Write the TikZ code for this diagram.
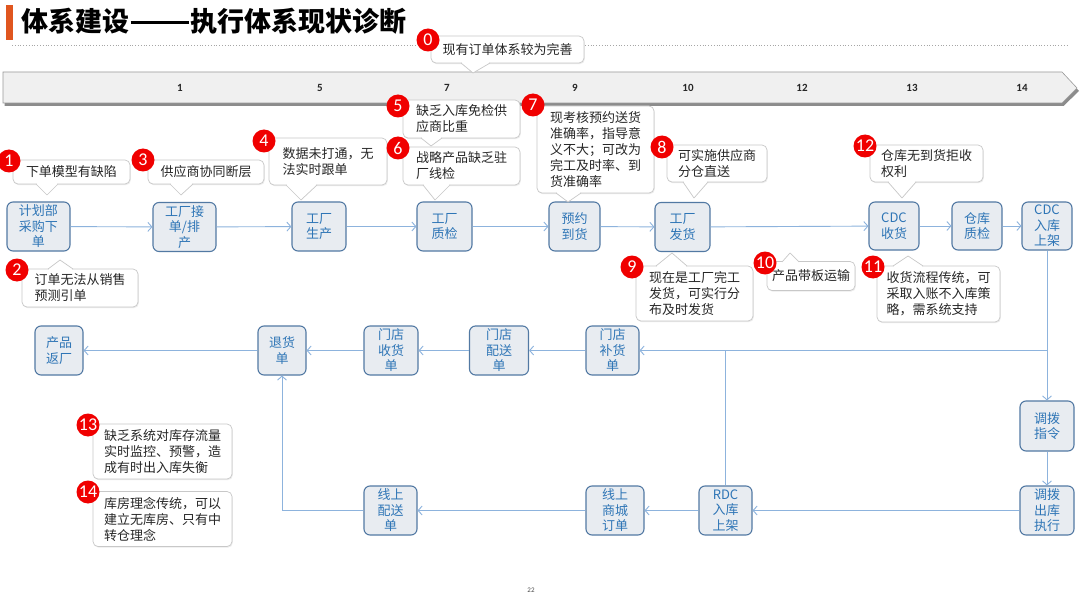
\documentclass[tikz,border=0pt]{standalone}
\usepackage{fontspec}
\setmainfont{Noto Sans CJK SC}
\newfontfamily\numfont{Carlito}
\usetikzlibrary{arrows.meta,shadows,calc}
\definecolor{nodefill}{HTML}{E8ECF1}
\definecolor{nodeborder}{HTML}{5279A3}
\definecolor{nodetext}{HTML}{2E75B6}
\definecolor{linkc}{HTML}{8DB3DD}
\definecolor{callborder}{HTML}{C8C8C8}
\definecolor{badgered}{HTML}{F00000}
\definecolor{titlebar}{HTML}{E0561F}
\newcommand{\calloutptr}[5]{%
  \fill[white] (#3,#5) -- (#1,#2) -- (#4,#5) -- cycle;
  \fill[white] (#3+0.6,#5-1) rectangle (#4-0.6,#5+1);
  \draw[callborder, line width=0.7pt, line join=round] (#3,#5) -- (#1,#2) -- (#4,#5);}
\begin{document}
\begin{tikzpicture}[x=1pt,y=-1pt,
 proc/.style={draw=nodeborder, line width=1.1pt, fill=nodefill, rounded corners=6pt, text=nodetext,
   font=\fontsize{13}{15.5}\selectfont, align=center, inner sep=0pt, minimum height=49pt},
 link/.style={draw=linkc, line width=0.9pt, -{Straight Barb[length=4pt,width=9pt]}},
 plainlink/.style={draw=linkc, line width=0.9pt},
 callbox/.style={draw=callborder, line width=0.7pt, fill=white, rounded corners=5pt, align=left,
   font=\fontsize{13}{16}\selectfont, text=black!85, inner sep=0pt,
   drop shadow={shadow xshift=0.8pt, shadow yshift=-1.2pt, opacity=0.15}},
 badge/.style={circle, fill=badgered, text=white, inner sep=0pt, minimum size=23pt,
   font=\numfont\fontsize{18}{18}\selectfont},
 tick/.style={font=\numfont\bfseries\fontsize{11}{11}\selectfont, text=black!85}
]
\useasboundingbox (0,0) rectangle (1080,607);
\fill[white] (0,0) rectangle (1080,607);

% title
\fill[titlebar] (6,5) rectangle (13,40);
\node[anchor=west, inner sep=0pt, font=\bfseries\fontsize{27}{27}\selectfont] (title) at (21,21)
  {体系建设\hspace{1.5pt}\raisebox{7pt}{\rule{58pt}{2.8pt}}\hspace{1.5pt}执行体系现状诊断};
\draw[black!35, dotted, line width=0.8pt] (12,45) -- (420,45);
\draw[black!35, dotted, line width=0.8pt] (585,45) -- (1067,45);

% timeline
\fill[black!45] (4.5,75) -- (1063.5,75) -- (1079,91) -- (1063.5,106) -- (4.5,106) -- cycle;
\draw[draw=black!40, fill=black!6, line width=0.6pt] (3,72) -- (1062,72) -- (1077,88) -- (1062,103) -- (3,103) -- cycle;
\node[tick] (t1) at (180,88) {1};
\node[tick] (t5) at (320,88) {5};
\node[tick] (t7) at (447,88) {7};
\node[tick] (t9) at (575,88) {9};
\node[tick] (t10) at (688,88) {10};
\node[tick] (t12) at (802,88) {12};
\node[tick] (t13) at (912,88) {13};
\node[tick] (t14) at (1022,88) {14};

% callout 0
\node[callbox, minimum width=153pt, minimum height=27pt] (k0) at (507.5,49.5) {现有订单体系较为完善};
\calloutptr{473}{73}{461}{490}{63}
\node[badge] (b0) at (428,40) {0};

% process row 1
\node[proc, minimum width=63pt] (plan) at (38.5,226.5) {计划部\\采购下\\单};
\node[proc, minimum width=63pt] (accept) at (184.5,227) {工厂接\\单/排\\产};
\node[proc, minimum width=54pt] (produce) at (319,226.5) {工厂\\生产};
\node[proc, minimum width=55pt] (qc) at (444.5,226.5) {工厂\\质检};
\node[proc, minimum width=51pt] (appt) at (574.5,226.5) {预约\\到货};
\node[proc, minimum width=55pt] (ship) at (682.5,227) {工厂\\发货};
\node[proc, minimum width=50pt, minimum height=48pt] (cdcrecv) at (894,226) {CDC\\收货};
\node[proc, minimum width=50pt, minimum height=48pt] (whqc) at (977,226) {仓库\\质检};
\node[proc, minimum width=50pt, minimum height=48pt] (cdcput) at (1047,226) {CDC\\入库\\上架};

% row 2
\node[proc, minimum width=48pt] (ret) at (59,350.5) {产品\\返厂};
\node[proc, minimum width=48pt] (retorder) at (282,350.5) {退货\\单};
\node[proc, minimum width=54pt] (storerecv) at (391,350.5) {门店\\收货\\单};
\node[proc, minimum width=59pt] (storedist) at (499,350.5) {门店\\配送\\单};
\node[proc, minimum width=53pt] (storerepl) at (612.5,350.5) {门店\\补货\\单};

% row 3
\node[proc, minimum width=54pt, minimum height=50pt] (tbcmd) at (1047,426) {调拨\\指令};
\node[proc, minimum width=53pt] (onlinedist) at (390.5,510.5) {线上\\配送\\单};
\node[proc, minimum width=58pt] (mall) at (615,510.5) {线上\\商城\\订单};
\node[proc, minimum width=53pt] (rdc) at (725.5,510.5) {RDC\\入库\\上架};
\node[proc, minimum width=54pt] (tbexec) at (1047,510.5) {调拨\\出库\\执行};

% connectors
\draw[link] (plan) -- (accept);
\draw[link] (accept) -- (produce);
\draw[link] (produce) -- (qc);
\draw[link] (qc) -- (appt);
\draw[link] (appt) -- (ship);
\draw[link] (ship) -- (cdcrecv);
\draw[link] (cdcrecv) -- (whqc);
\draw[link] (whqc) -- (cdcput);
\coordinate (junc) at (cdcput.south |- storerepl.east);
\draw[plainlink] (cdcput.south) -- (junc);
\draw[link] (junc) -- (storerepl.east);
\draw[link] (junc) -- (tbcmd.north);
\draw[link] (tbcmd) -- (tbexec);
\draw[link] (tbexec) -- (rdc);
\draw[link] (rdc) -- (mall);
\draw[link] (mall) -- (onlinedist);
\draw[link] (onlinedist.west) -| (retorder.south);
\draw[plainlink] (rdc.north) -- (rdc.north |- storerepl.east);
\draw[link] (storerepl) -- (storedist);
\draw[link] (storedist) -- (storerecv);
\draw[link] (storerecv) -- (retorder);
\draw[link] (retorder) -- (ret);

% callout 1
\node[callbox, minimum width=117pt, minimum height=24pt] (k1) at (71.5,172) {下单模型有缺陷};
\calloutptr{47}{195}{36}{58}{184}
\node[badge] (b1) at (9,161) {1};
% callout 2
\node[callbox, minimum width=116pt, minimum height=38pt] (k2) at (80,288) {订单无法从销售\\预测引单};
\calloutptr{60}{260}{48}{73}{269}
\node[badge] (b2) at (17,270) {2};
% callout 3
\node[callbox, minimum width=116pt, minimum height=24pt] (k3) at (206,172) {供应商协同断层};
\calloutptr{181}{195}{170}{193}{184}
\node[badge] (b3) at (143,160) {3};
% callout 4
\node[callbox, minimum width=118pt, minimum height=47pt] (k4) at (328,161.5) {数据未打通，无\\法实时跟单};
\calloutptr{301}{200}{286}{317}{185}
\node[badge] (b4) at (264,141) {4};
% callout 5
\node[callbox, minimum width=117pt, minimum height=38pt] (k5) at (461.5,119) {缺乏入库免检供\\应商比重};
\calloutptr{431}{146}{421}{442}{138}
\node[badge] (b5) at (398,106) {5};
% callout 6
\node[callbox, minimum width=117pt, minimum height=38pt] (k6) at (461.5,166) {战略产品缺乏驻\\厂线检};
\calloutptr{435}{200}{423}{450}{185}
\node[badge] (b6) at (398,148) {6};
% callout 7
\node[callbox, minimum width=117pt, minimum height=87pt] (k7) at (595.5,149.5) {现考核预约送货\\准确率，指导意\\义不大；可改为\\完工及时率、到\\货准确率};
\calloutptr{568}{202}{556}{581}{193}
\node[badge] (b7) at (533,105) {7};
% callout 8
\node[callbox, minimum width=100pt, minimum height=37pt] (k8) at (717,163.5) {可实施供应商\\分仓直送};
\calloutptr{694}{198}{683}{708}{182}
\node[badge] (b8) at (662,147) {8};
% callout 9
\node[callbox, minimum width=117pt, minimum height=55pt] (k9) at (694.5,293.5) {现在是工厂完工\\发货，可实行分\\布及时发货};
\calloutptr{672}{253}{656}{687}{266}
\node[badge] (b9) at (632,267) {9};
% callout 10
\node[callbox, minimum width=88pt, minimum height=29pt] (k10) at (811,276) {产品带板运输};
\calloutptr{790}{253}{782}{799}{262}
\node[badge] (b10) at (765,263) {10};
% callout 11
\node[callbox, minimum width=123pt, minimum height=56pt] (k11) at (938.5,294) {收货流程传统，可\\采取入账不入库策\\略，需系统支持};
\calloutptr{908}{256}{893}{923}{266}
\node[badge] (b11) at (873,267) {11};
% callout 12
\node[callbox, minimum width=113pt, minimum height=37pt] (k12) at (926.5,163.5) {仓库无到货拒收\\权利};
\calloutptr{902}{198}{888}{916}{182}
\node[badge] (b12) at (865,146) {12};
% callout 13
\node[callbox, minimum width=139pt, minimum height=55pt] (k13) at (162.5,451.5) {缺乏系统对库存流量\\实时监控、预警，造\\成有时出入库失衡};
\node[badge] (b13) at (88,425) {13};
% callout 14
\node[callbox, minimum width=139pt, minimum height=55pt] (k14) at (162.5,519) {库房理念传统，可以\\建立无库房、只有中\\转仓理念};
\node[badge] (b14) at (88,492) {14};

% page number
\node[font=\numfont\fontsize{7}{7}\selectfont, text=black!70] (pg) at (531,590) {22};
\end{tikzpicture}
\end{document}
